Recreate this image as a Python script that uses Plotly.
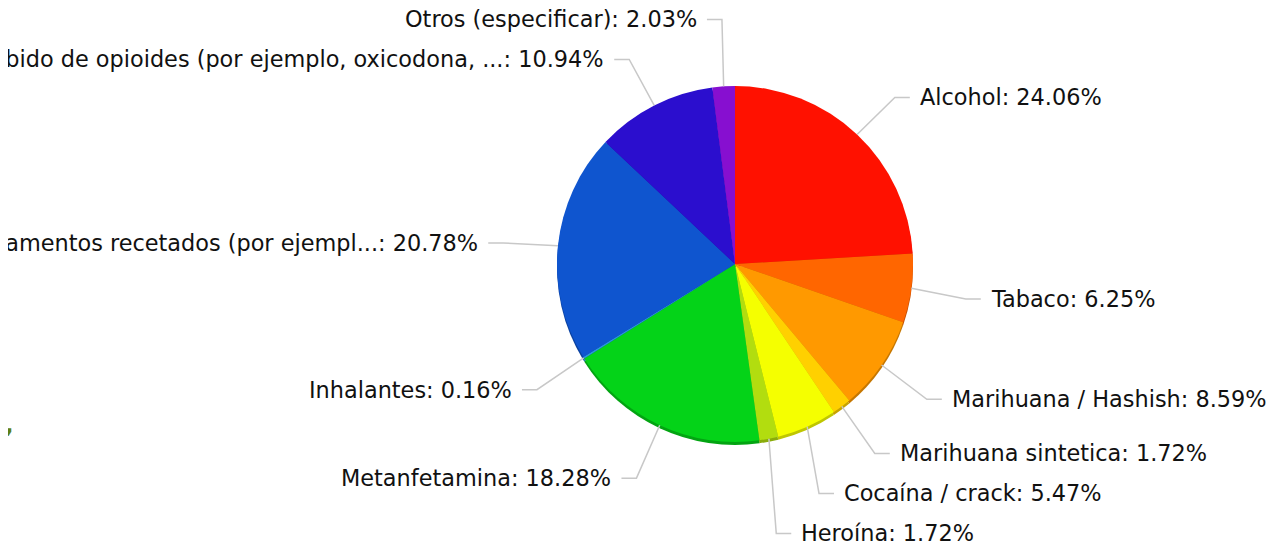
import math
import plotly.graph_objects as go

# ---- data ----
labels = [
    "Alcohol",
    "Tabaco",
    "Marihuana / Hashish",
    "Marihuana sintetica",
    "Cocaína / crack",
    "Heroína",
    "Metanfetamina",
    "Inhalantes",
    "Uso indebido de medicamentos recetados (por ejemplo, ...",
    "Uso indebido de opioides (por ejemplo, oxicodona, hidrocodona)",
    "Otros (especificar)",
]
values = [24.06, 6.25, 8.59, 1.72, 5.47, 1.72, 18.28, 0.16, 20.78, 10.94, 2.03]
colors = ["#FF1100", "#FF6600", "#FF9900", "#FFD000", "#F5FF00", "#B2DD0F",
          "#04D318", "#2A9AD8", "#0F55CF", "#2B0ECE", "#870FD0"]

# ---- layout parameters (pixels, in window coordinates) ----
W, H = 1274, 547
PAGE_OFF = 8          # default body margin of the html page
CX, CY, R = 735, 264, 178
LABEL_R = R + 55
Y_OFF = 3
GAP = 40
MAXLEN = 50
FONT = "DejaVu Sans"
FSIZE = 22.4


def px(x):
    return (x - PAGE_OFF) / W


def py(y):
    return 1 - (y - PAGE_OFF) / H


def darker(hexcol, f=0.78):
    h = hexcol.lstrip("#")
    r, g, b = (int(h[i:i + 2], 16) for i in (0, 2, 4))
    return "rgb(%d,%d,%d)" % (r * f, g * f, b * f)


def short(lbl):
    return lbl if len(lbl) <= MAXLEN else lbl[:MAXLEN] + "..."


fig = go.Figure()

dom_x = [px(CX - R), px(CX + R)]
dom_y = [py(CY + R), py(CY - R)]
shift = 3 / H

# shadow layer (darker hues, slightly lower)
fig.add_trace(go.Pie(
    labels=labels, values=values, sort=False, direction="clockwise", rotation=0,
    marker=dict(colors=[darker(c) for c in colors], line=dict(width=0)),
    textinfo="none", hoverinfo="skip", showlegend=False,
    domain=dict(x=dom_x, y=[dom_y[0] - shift, dom_y[1] - shift]),
))
fig.add_trace(go.Pie(
    labels=labels, values=values, sort=False, direction="clockwise", rotation=0,
    marker=dict(colors=colors, line=dict(width=0)),
    textinfo="none", showlegend=False,
    domain=dict(x=dom_x, y=dom_y),
))

# ---- label placement computed from the data ----
total = sum(values)
items = []
cum = 0.0
for lbl, v in zip(labels, values):
    a = math.radians((cum + v / 2) / total * 360)
    cum += v
    s, c = math.sin(a), math.cos(a)
    ex, ey = CX + R * s, CY - R * c
    ny = CY - LABEL_R * c + Y_OFF
    items.append(dict(lbl=lbl, v=v, s=s, c=c, ex=ex, ey=ey, y=ny,
                      right=s >= 0))

for side in (True, False):
    grp = [it for it in items if it["right"] == side]
    upper = sorted([it for it in grp if it["y"] < CY], key=lambda d: -d["y"])
    lower = sorted([it for it in grp if it["y"] >= CY], key=lambda d: d["y"])
    for i in range(1, len(upper)):
        upper[i]["y"] = min(upper[i]["y"], upper[i - 1]["y"] - GAP)
    for i in range(1, len(lower)):
        lower[i]["y"] = max(lower[i]["y"], lower[i - 1]["y"] + GAP)

shapes = []
annotations = []
for it in items:
    sign = 1 if it["right"] else -1
    dy = it["y"] - Y_OFF - CY
    if abs(dy) < LABEL_R:
        circ_x = CX + sign * math.sqrt(LABEL_R ** 2 - dy ** 2)
    else:
        circ_x = CX
    ydiff = it["y"] - it["ey"]
    dirc = -it["c"]
    t = ydiff / dirc if abs(dirc) > 1e-6 else 0
    t = max(t, 0)
    rad_x = it["ex"] + 0.4 * it["s"] * t
    elbow = max(circ_x, rad_x) if it["right"] else min(circ_x, rad_x)
    y = it["y"]
    path = "M %f,%f L %f,%f L %f,%f" % (
        px(it["ex"]), py(it["ey"]), px(elbow), py(y), px(elbow + sign * 15), py(y))
    shapes.append(dict(type="path", xref="paper", yref="paper", path=path,
                       line=dict(color="#C8C8C8", width=1.5)))
    annotations.append(dict(
        xref="paper", yref="paper", x=px(elbow + sign * 23), y=py(y),
        xanchor="left" if it["right"] else "right", yanchor="middle",
        text="%s: %.2f%%" % (short(it["lbl"]), it["v"]),
        showarrow=False, font=dict(family=FONT, size=FSIZE, color="#111111"),
    ))

# stray fragment at the left edge
annotations.append(dict(xref="paper", yref="paper", x=px(3), y=py(425),
                        xanchor="left", yanchor="middle", text="<b>,</b>",
                        showarrow=False,
                        font=dict(family=FONT, size=FSIZE, color="#5E7F14")))

fig.update_layout(
    width=W, height=H,
    margin=dict(l=0, r=0, t=0, b=0),
    paper_bgcolor="white", plot_bgcolor="white",
    shapes=shapes, annotations=annotations,
    font=dict(family=FONT),
)

fig.write_html("out.html")
